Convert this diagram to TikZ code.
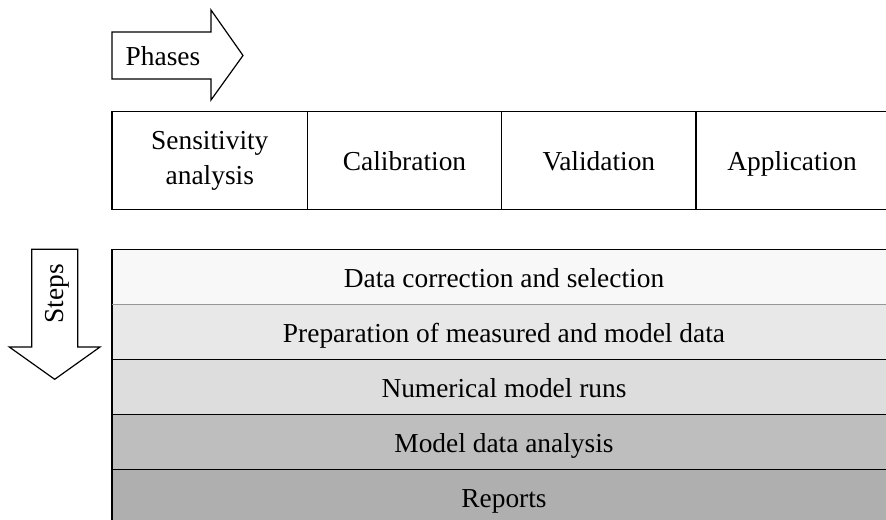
\documentclass[tikz,border=0pt]{standalone}
\usepackage{fontspec}
\setmainfont{Liberation Serif}
\begin{document}
\begin{tikzpicture}[x=0.5pt, y=-0.5pt,
  every node/.style={font=\fontsize{13.7}{16.5}\selectfont},
  outline/.style={draw=black, line width=0.6pt, line join=miter},
  label/.style={inner sep=0pt, align=center, text height=9.5pt, text depth=3pt},
  twoline/.style={inner sep=0pt, align=center, font=\fontsize{13.7}{17.5}\selectfont}]
\clip (0,0) rectangle (886,519);
\fill[white] (0,0) rectangle (886,519);

% phase direction arrow
\draw[outline, fill=white] (112,32) -- (211,32) -- (211,10) -- (243,55.5)
  -- (211,100) -- (211,79) -- (112,79) -- cycle;
\node[label] (phases) at (163,59) {Phases};

% phases table
\draw[outline, fill=white] (112,111.7) rectangle (892,209.3);
\foreach \x in {307.5,501.5,696} \draw[outline] (\x,111.7) -- (\x,209.3);
\node[twoline] (sens) at (209.8,161) {Sensitivity\\analysis};
\node[label] (cal)  at (404.5,163.5) {Calibration};
\node[label] (val)  at (598.8,163.5) {Validation};
\node[label] (app)  at (792,163.5) {Application};

% step direction arrow
\draw[outline, fill=white] (31.7,249.3) -- (77.7,249.3) -- (77.7,347) -- (100,347)
  -- (54.7,379.3) -- (9.3,347) -- (31.7,347) -- cycle;
\node[label, rotate=90] (steps) at (57,294) {Steps};

% step rows
\fill[fill={rgb,255:red,248;green,248;blue,248}] (112,249.3) rectangle (892,304.3);
\fill[fill={rgb,255:red,232;green,232;blue,232}] (112,304.3) rectangle (892,359.3);
\fill[fill={rgb,255:red,221;green,221;blue,221}] (112,359.3) rectangle (892,414.3);
\fill[fill={rgb,255:red,190;green,190;blue,190}] (112,414.3) rectangle (892,469.3);
\fill[fill={rgb,255:red,175;green,175;blue,175}] (112,469.3) rectangle (892,524.3);
\draw[outline] (112,249.3) rectangle (892,524.3);
\foreach \y in {359.3,414.3,469.3} \draw[outline] (112,\y) -- (892,\y);
\draw[line width=0.8pt, draw={rgb,255:red,150;green,150;blue,150}] (112,304.3) -- (892,304.3);
\node[label] (r1) at (504,280.8) {Data correction and selection};
\node[label] (r2) at (504,335.8) {Preparation of measured and model data};
\node[label] (r3) at (504,390.8) {Numerical model runs};
\node[label] (r4) at (504,445.8) {Model data analysis};
\node[label] (r5) at (504,500.8) {Reports};
\end{tikzpicture}
\end{document}
